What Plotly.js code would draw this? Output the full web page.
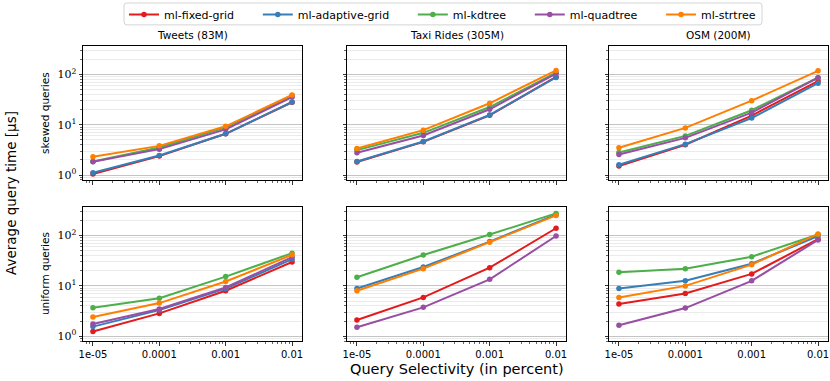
<!DOCTYPE html>
<html>
<head>
<meta charset="utf-8">
<script src="https://cdn.plot.ly/plotly-3.0.1.min.js"></script>
<style>
  html, body { margin: 0; padding: 0; background: #fff; }
  #plot { width: 830px; height: 381px; }
</style>
</head>
<body>
<div id="plot"></div>
<script>
const SELECTIVITY = [0.00001, 0.0001, 0.001, 0.01];
const X_TICK_TEXT = ["1e-05", "0.0001", "0.001", "0.01"];
const Y_TICK_VALS = [1, 10, 100];
const Y_TICK_TEXT = ["10<sup>0</sup>", "10<sup>1</sup>", "10<sup>2</sup>"];

const METHODS = ["ml-fixed-grid", "ml-adaptive-grid", "ml-kdtree", "ml-quadtree", "ml-strtree"];
const COLORS = ["#e41a1c", "#377eb8", "#4daf4a", "#984ea3", "#ff7f00"];

const DATASETS = ["Tweets (83M)", "Taxi Rides (305M)", "OSM (200M)"];
const QUERY_TYPES = ["skewed queries", "uniform queries"];

// rows follow METHODS order: fixed, adaptive, kdtree, quadtree, strtree
const tweetsSkewed = [
  [1.05, 2.38, 6.6, 28],
  [1.11, 2.45, 6.6, 28.3],
  [1.85, 3.53, 8.8, 38],
  [1.84, 3.27, 8.1, 35.6],
  [2.31, 3.8, 9.3, 39],
];
const taxiSkewed = [
  [1.81, 4.57, 15.4, 89],
  [1.86, 4.64, 15.7, 87],
  [3.13, 6.9, 22.5, 108],
  [2.77, 6.1, 20.3, 104],
  [3.37, 7.8, 26.7, 120],
];
const osmSkewed = [
  [1.51, 4.0, 15.2, 74],
  [1.6, 4.11, 13.6, 67],
  [2.81, 6.0, 19.4, 86],
  [2.57, 5.48, 17.4, 86],
  [3.48, 8.65, 30.1, 118],
];
const tweetsUniform = [
  [1.24, 2.84, 8.0, 29.8],
  [1.55, 3.3, 8.8, 34],
  [3.68, 5.7, 15.3, 44.8],
  [1.75, 3.46, 9.3, 37.4],
  [2.41, 4.55, 12.2, 41.5],
];
const taxiUniform = [
  [2.1, 5.9, 23, 140],
  [8.9, 23.7, 76, 260],
  [14.8, 41, 105, 276],
  [1.5, 3.74, 13.5, 98],
  [8.0, 22, 74, 252],
];
const osmUniform = [
  [4.35, 7.06, 17.3, 85],
  [8.9, 12.6, 27.6, 98],
  [18.6, 22, 38, 105],
  [1.65, 3.62, 12.6, 82],
  [5.9, 10, 26.4, 108],
];

const PANELS = [tweetsSkewed, taxiSkewed, osmSkewed, tweetsUniform, taxiUniform, osmUniform];

const W = 830;
const H = 381;
const COL_PX = [[83, 302], [347, 566], [609, 828]];
const ROW_PX = [[44, 179], [206, 341]];
// extra room after each legend label so entries spread like the original
const LEGEND_PAD = "\u2002\u2002\u2002\u2009";

function minorVals(decades) {
  const out = [];
  decades.forEach((d) => {
    for (let k = 2; k <= 9; k++) out.push(d * k);
  });
  return out;
}

const SANS = "DejaVu Sans, sans-serif";
const SERIF = "DejaVu Serif, serif";

const traces = [];
PANELS.forEach((panel, p) => {
  const suffix = p === 0 ? "" : String(p + 1);
  panel.forEach((values, m) => {
    traces.push({
      type: "scatter",
      mode: "lines+markers",
      x: SELECTIVITY,
      y: values,
      xaxis: "x" + suffix,
      yaxis: "y" + suffix,
      name: METHODS[m] + (m < METHODS.length - 1 ? LEGEND_PAD : ""),
      legendgroup: METHODS[m],
      showlegend: p === 0,
      line: { color: COLORS[m], width: 2 },
      marker: { color: COLORS[m], size: 5.5 },
    });
  });
});

function roundedBox(x0px, x1px, y0px, y1px, r) {
  const x0 = x0px / W, x1 = x1px / W, y0 = 1 - y1px / H, y1 = 1 - y0px / H;
  const rx = r / W, ry = r / H;
  return `M ${x0 + rx} ${y1} L ${x1 - rx} ${y1} Q ${x1} ${y1} ${x1} ${y1 - ry} ` +
    `L ${x1} ${y0 + ry} Q ${x1} ${y0} ${x1 - rx} ${y0} L ${x0 + rx} ${y0} ` +
    `Q ${x0} ${y0} ${x0} ${y0 + ry} L ${x0} ${y1 - ry} Q ${x0} ${y1} ${x0 + rx} ${y1} Z`;
}

const layout = {
  width: W,
  height: H,
  paper_bgcolor: "#fff",
  plot_bgcolor: "#fff",
  margin: { l: 0, r: 0, t: 0, b: 0 },
  showlegend: true,
  legend: {
    orientation: "h",
    x: 124 / W,
    xanchor: "left",
    y: 1 - 12.5 / H,
    yanchor: "middle",
    bgcolor: "rgba(0,0,0,0)",
    borderwidth: 0,
    font: { family: SANS, size: 11, color: "#000" },
    itemwidth: 30,
    traceorder: "normal",
  },
  annotations: [],
  shapes: [
    {
      type: "path",
      xref: "paper",
      yref: "paper",
      path: roundedBox(124, 762, 1, 23, 3),
      line: { color: "#d4d4d4", width: 1 },
      fillcolor: "rgba(255,255,255,0.8)",
      layer: "below",
    },
  ],
};

PANELS.forEach((_, p) => {
  const row = Math.floor(p / 3);
  const col = p % 3;
  const suffix = p === 0 ? "" : String(p + 1);
  const xDom = [COL_PX[col][0] / W, COL_PX[col][1] / W];
  const yDom = [1 - ROW_PX[row][1] / H, 1 - ROW_PX[row][0] / H];
  layout["xaxis" + suffix] = {
    type: "log",
    domain: xDom,
    anchor: "y" + suffix,
    range: [-5.15, -1.85],
    tickmode: "array",
    tickvals: SELECTIVITY,
    ticktext: X_TICK_TEXT,
    showticklabels: row === 1,
    ticks: "outside",
    ticklen: 3.5,
    tickwidth: 0.8,
    tickcolor: "#000",
    showgrid: false,
    zeroline: false,
    showline: true,
    linecolor: "#000",
    linewidth: 1,
    mirror: true,
    tickfont: { family: SANS, size: 10, color: "#000" },
    minor: {
      tickmode: "array",
      tickvals: minorVals([1e-6, 1e-5, 1e-4, 1e-3, 1e-2]),
      ticks: "outside",
      ticklen: 2,
      tickwidth: 0.6,
      tickcolor: "#000",
      showgrid: false,
    },
  };
  layout["yaxis" + suffix] = {
    type: "log",
    domain: yDom,
    anchor: "x" + suffix,
    range: [-0.1, 2.57],
    tickmode: "array",
    tickvals: Y_TICK_VALS,
    ticktext: Y_TICK_TEXT,
    showticklabels: col === 0,
    ticks: "outside",
    ticklen: 3.5,
    tickwidth: 0.8,
    tickcolor: "#000",
    showgrid: true,
    gridcolor: "#c4c4c4",
    gridwidth: 1,
    zeroline: false,
    showline: true,
    linecolor: "#000",
    linewidth: 1,
    mirror: true,
    tickfont: { family: SERIF, size: 11, color: "#000" },
    minor: {
      tickmode: "array",
      tickvals: minorVals([0.1, 1, 10, 100]),
      ticks: "outside",
      ticklen: 2,
      tickwidth: 0.6,
      tickcolor: "#000",
      showgrid: true,
      gridcolor: "#ebebeb",
      gridwidth: 1,
    },
  };
});

DATASETS.forEach((name, col) => {
  layout.annotations.push({
    text: name,
    xref: "paper",
    yref: "paper",
    x: (COL_PX[col][0] + COL_PX[col][1]) / 2 / W,
    y: 1 - 33 / H,
    xanchor: "center",
    yanchor: "middle",
    showarrow: false,
    font: { family: SANS, size: 10.5, color: "#000" },
  });
});

QUERY_TYPES.forEach((name, row) => {
  layout.annotations.push({
    text: name,
    xref: "paper",
    yref: "paper",
    x: 45 / W,
    y: 1 - (ROW_PX[row][0] + ROW_PX[row][1]) / 2 / H,
    xanchor: "center",
    yanchor: "middle",
    textangle: -90,
    showarrow: false,
    font: { family: SANS, size: 10.5, color: "#000" },
  });
});

layout.annotations.push({
  text: "Average query time [µs]",
  xref: "paper",
  yref: "paper",
  x: 11 / W,
  y: 1 - 192 / H,
  xanchor: "center",
  yanchor: "middle",
  textangle: -90,
  showarrow: false,
  font: { family: SANS, size: 13.5, color: "#000" },
});

layout.annotations.push({
  text: "Query Selectivity (in percent)",
  xref: "paper",
  yref: "paper",
  x: 457 / W,
  y: 1 - 369 / H,
  xanchor: "center",
  yanchor: "middle",
  showarrow: false,
  font: { family: SANS, size: 14.5, color: "#000" },
});

Plotly.newPlot("plot", traces, layout, { staticPlot: true, displayModeBar: false });
</script>
</body>
</html>
